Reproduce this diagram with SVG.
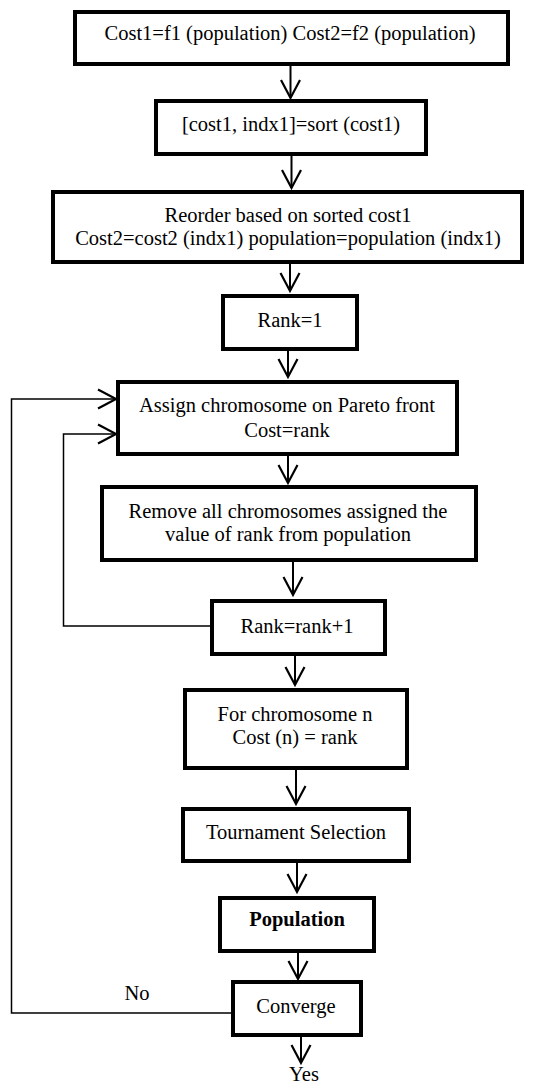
<svg xmlns="http://www.w3.org/2000/svg" width="542" height="1086" viewBox="0 0 542 1086">
<style>
.box{fill:#fff;stroke:#000;stroke-width:4}
.t{font-family:"Liberation Serif","Times New Roman",serif;font-size:20.5px;fill:#000;text-anchor:middle}
.b{font-weight:bold}
.c{fill:none;stroke:#000;stroke-width:2}
.l{fill:none;stroke:#000;stroke-width:1.5}
</style>
<defs>
<marker id="ah" markerUnits="userSpaceOnUse" viewBox="-20 -12 24 24" refX="0" refY="0" markerWidth="24" markerHeight="24" orient="auto">
<path d="M-18,-9.5 L0,0 L-18,9.5" fill="none" stroke="#000" stroke-width="2.2"/>
</marker>
</defs>
<g id="connectors">
<path class="c" d="M290.5,65 V98" marker-end="url(#ah)"/>
<path class="c" d="M291.5,155 V188" marker-end="url(#ah)"/>
<path class="c" d="M290,263 V291" marker-end="url(#ah)"/>
<path class="c" d="M288,350 V377" marker-end="url(#ah)"/>
<path class="c" d="M288,455 V483" marker-end="url(#ah)"/>
<path class="c" d="M293,561 V595" marker-end="url(#ah)"/>
<path class="c" d="M295,655 V685" marker-end="url(#ah)"/>
<path class="c" d="M296,769 V804" marker-end="url(#ah)"/>
<path class="c" d="M297,862 V892" marker-end="url(#ah)"/>
<path class="c" d="M298,952 V979" marker-end="url(#ah)"/>
<path class="c" d="M301,1036 V1063" marker-end="url(#ah)"/>
<path class="l" d="M211,626 H63.5 V434 H116" marker-end="url(#ah)"/>
<path class="l" d="M232,1013 H11.5 V399 H116" marker-end="url(#ah)"/>
<text class="t" x="137" y="1000">No</text>
<text class="t" x="304" y="1081">Yes</text>
</g>
<g id="n1">
<rect class="box" x="75" y="12" width="433" height="52"/>
<text class="t" x="290" y="40">Cost1=f1 (population) Cost2=f2 (population)</text>
</g>
<g id="n2">
<rect class="box" x="156" y="101" width="270" height="53"/>
<text class="t" x="291" y="131">[cost1, indx1]=sort (cost1)</text>
</g>
<g id="n3">
<rect class="box" x="53" y="192" width="469" height="70"/>
<text class="t" x="288" y="222">Reorder based on sorted cost1</text>
<text class="t" x="288" y="245">Cost2=cost2 (indx1) population=population (indx1)</text>
</g>
<g id="n4">
<rect class="box" x="223" y="296" width="134" height="53"/>
<text class="t" x="290" y="327">Rank=1</text>
</g>
<g id="n5">
<rect class="box" x="118" y="382" width="339" height="72"/>
<text class="t" x="287" y="412">Assign chromosome on Pareto front</text>
<text class="t" x="287" y="437">Cost=rank</text>
</g>
<g id="n6">
<rect class="box" x="102" y="487" width="374" height="73"/>
<text class="t" x="288" y="518">Remove all chromosomes assigned the</text>
<text class="t" x="288" y="541">value of rank from population</text>
</g>
<g id="n7">
<rect class="box" x="212" y="601" width="173" height="53"/>
<text class="t" x="297" y="633">Rank=rank+1</text>
</g>
<g id="n8">
<rect class="box" x="185" y="690" width="222" height="78"/>
<text class="t" x="295" y="721">For chromosome n</text>
<text class="t" x="295" y="744">Cost (n) = rank</text>
</g>
<g id="n9">
<rect class="box" x="183" y="809" width="226" height="52"/>
<text class="t" x="296" y="839">Tournament Selection</text>
</g>
<g id="n10">
<rect class="box" x="220" y="898" width="154" height="53"/>
<text class="t b" x="297" y="926">Population</text>
</g>
<g id="n11">
<rect class="box" x="233" y="982" width="128" height="53"/>
<text class="t" x="296" y="1013">Converge</text>
</g>
</svg>
